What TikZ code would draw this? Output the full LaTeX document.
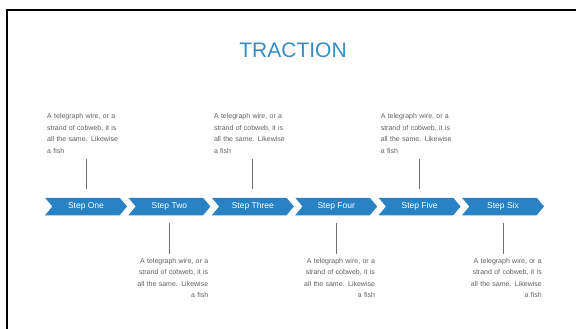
\documentclass[tikz,border=0pt]{standalone}
\usepackage{fontspec}
\setmainfont{Liberation Sans}
\usetikzlibrary{shapes.symbols}
\definecolor{stepblue}{RGB}{40,130,195}
\definecolor{titleblue}{RGB}{55,140,195}
\definecolor{bodygrey}{RGB}{95,95,95}
\definecolor{linegrey}{RGB}{110,110,110}
\tikzset{
  stepbox/.style={signal, signal to=east, signal from=west, signal pointer angle=100,
    fill=stepblue, draw=none, minimum width=82pt, minimum height=17.5pt, inner sep=0pt,
    outer sep=0pt, text=white, font=\fontsize{8.5}{10}\selectfont},
  note/.style={text width=75pt, inner sep=0pt, text=bodygrey,
    font=\fontsize{7}{11.5}\selectfont},
  topnote/.style={note, align=left, anchor=north west},
  botnote/.style={note, align=right, anchor=north east},
  conn/.style={draw=linegrey, line width=0.8pt},
}
\newcommand\fishtext{A telegraph wire, or a\\ strand of cobweb, it is\\ all the same. Likewise\\ a fish}
\begin{document}
\begin{tikzpicture}[x=1pt,y=-1pt]
\useasboundingbox (0,0) rectangle (576,329);
% frame edges
\draw[line width=2pt] (6.5,329) -- (6.5,10.5) -- (576,10.5);
% title
\node[text=titleblue, font=\fontsize{21}{25}\selectfont] (title) at (293,50.5) {TRACTION};
% chevron steps
\node[stepbox] (c1) at (86,206.5) {Step One};
\node[stepbox] (c2) at (169.4,206.5) {Step Two};
\node[stepbox] (c3) at (252.8,206.5) {Step Three};
\node[stepbox] (c4) at (336.2,206.5) {Step Four};
\node[stepbox] (c5) at (419.6,206.5) {Step Five};
\node[stepbox] (c6) at (503,206.5) {Step Six};
% notes above
\node[topnote] (t1) at (47,113.5) {\fishtext};
\node[topnote] (t3) at (213.8,113.5) {\fishtext};
\node[topnote] (t5) at (380.6,113.5) {\fishtext};
% notes below
\node[botnote] (b2) at (208.4,258) {\fishtext};
\node[botnote] (b4) at (375.2,258) {\fishtext};
\node[botnote] (b6) at (542,258) {\fishtext};
% connectors
\foreach \s/\t in {c1/t1,c3/t3,c5/t5}
  \draw[conn, shorten <=9pt, shorten >=5pt] (\s.north) -- (\s.north |- \t.south);
\foreach \s/\t in {c2/b2,c4/b4,c6/b6}
  \draw[conn, shorten <=8pt, shorten >=4pt] (\s.south) -- (\s.south |- \t.north);
\end{tikzpicture}
\end{document}
